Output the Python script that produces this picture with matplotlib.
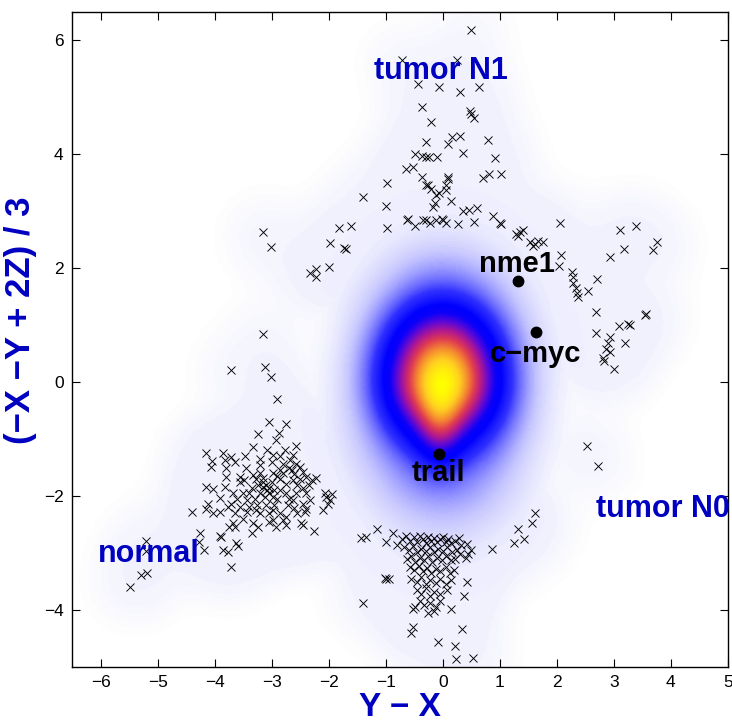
#!/usr/bin/env python3
import numpy as np
import matplotlib.pyplot as plt
from matplotlib.colors import LinearSegmentedColormap

# === config ===
XLIM = (-6.5, 5)
YLIM = (-5, 6.5)
LABEL_BLUE = "#0000c0"

# --- gene points (Y - X, (-X - Y + 2Z)/3) ---
TOP_PTS = [
    (0.49, 6.19), (-0.72, 5.66), (0.25, 5.65), (-0.43, 5.24), (-0.06, 5.19), (0.31, 5.09),
    (0.64, 5.18), (-0.36, 4.83), (-0.20, 4.57), (0.47, 4.77), (0.54, 4.63), (0.50, 4.71),
    (-0.29, 4.22), (0.09, 4.19), (0.17, 4.30), (0.31, 4.33), (0.80, 4.25), (-0.49, 4.01),
    (-0.36, 3.98), (-0.24, 3.96), (-0.10, 3.96), (-0.30, 3.95), (0.36, 4.02), (0.91, 3.94),
    (-0.65, 3.75), (-0.52, 3.78), (-0.37, 3.61), (-0.98, 3.50), (-0.26, 3.46), (-0.20, 3.40),
    (-0.29, 3.46), (0.09, 3.57), (0.05, 3.46), (0.06, 3.37), (0.09, 3.60), (-0.06, 3.32),
    (-0.11, 3.28), (0.70, 3.59), (0.81, 3.65), (1.03, 3.66), (0.15, 3.19), (-0.14, 3.15),
    (-0.17, 3.08), (-1.00, 3.09), (0.36, 3.01), (0.46, 3.03), (0.60, 3.06), (-0.61, 2.87),
    (-0.49, 2.75), (-0.35, 2.84), (-0.23, 2.80), (-0.11, 2.84), (-0.02, 2.87), (0.05, 2.80),
    (-0.29, 2.84), (0.01, 2.84), (0.27, 2.77), (0.54, 2.81), (-0.98, 2.71), (0.88, 2.91),
    (1.00, 2.80), (-0.63, 2.85), (-1.39, 3.26), (-1.60, 2.74), (-1.82, 2.71), (-1.97, 2.44),
    (-1.74, 2.35), (-1.69, 2.33), (-1.99, 2.02), (-2.32, 1.91), (-2.23, 1.98), (-2.22, 1.85),
    (-3.15, 2.64), (-3.02, 2.37), (-3.15, 0.85),
]

RIGHT_PTS = [
    (1.03, 2.78), (1.29, 2.61), (1.35, 2.64), (1.41, 2.68), (1.32, 2.56), (2.05, 2.80),
    (1.53, 2.46), (1.61, 2.43), (1.67, 2.48), (1.75, 2.46), (1.58, 2.39), (2.08, 2.23),
    (2.04, 2.04), (2.93, 2.20), (3.11, 2.67), (3.39, 2.75), (3.18, 2.33), (3.68, 2.32),
    (3.75, 2.46), (2.26, 1.94), (2.28, 1.85), (2.29, 1.74), (2.33, 1.66), (2.37, 1.50),
    (2.36, 1.56), (2.55, 1.61), (2.70, 1.82), (2.68, 1.23), (3.57, 1.20), (3.55, 1.18),
    (2.68, 0.87), (2.93, 0.79), (3.09, 0.98), (3.25, 1.03), (3.28, 1.00), (3.19, 0.69),
    (2.90, 0.68), (2.87, 0.59), (2.93, 0.53), (2.81, 0.42), (2.82, 0.37), (3.00, 0.24),
    (2.53, -1.12), (2.72, -1.47), (1.61, -2.29), (1.57, -2.48), (1.32, -2.57), (1.42, -2.76),
    (1.25, -2.82), (0.87, -2.92),
]

NORMAL_PTS = [
    (-3.71, 0.22), (-3.11, 0.27), (-3.02, 0.09), (-2.91, -0.30), (-3.04, -0.70), (-2.74, -0.74),
    (-3.24, -0.91), (-2.87, -0.89), (-2.93, -1.01), (-4.15, -1.25), (-3.86, -1.24), (-3.71, -1.32),
    (-4.04, -1.38), (-4.06, -1.49), (-3.82, -1.37), (-3.46, -1.30), (-3.33, -1.13), (-2.57, -1.12),
    (-2.77, -1.19), (-2.63, -1.28), (-3.09, -1.19), (-2.98, -1.28), (-3.21, -1.34), (-3.80, -1.51),
    (-3.80, -1.66), (-3.56, -1.67), (-3.49, -1.71), (-3.33, -1.63), (-3.21, -1.60), (-3.15, -1.69),
    (-3.24, -1.81), (-3.16, -1.84), (-3.09, -1.89), (-3.04, -1.95), (-2.98, -2.01), (-2.86, -1.89),
    (-2.74, -1.78), (-2.63, -1.72), (-2.51, -1.49), (-2.45, -1.57), (-2.39, -1.66), (-2.30, -1.72),
    (-2.22, -1.69), (-2.57, -1.43), (-2.68, -1.37), (-2.80, -1.43), (-2.86, -1.54), (-2.98, -1.60),
    (-4.15, -1.84), (-4.03, -1.87), (-3.82, -1.84), (-3.91, -2.04), (-3.68, -1.95), (-3.50, -1.95),
    (-3.44, -2.07), (-3.39, -2.19), (-3.27, -2.25), (-3.71, -2.13), (-3.77, -2.19), (-3.56, -2.19),
    (-4.12, -2.13), (-4.15, -2.22), (-4.03, -2.30), (-3.91, -2.28), (-4.39, -2.28), (-3.65, -2.30),
    (-3.44, -2.28), (-3.21, -2.30), (-2.98, -2.25), (-2.86, -2.30), (-2.71, -2.16), (-2.74, -2.36),
    (-3.04, -2.45), (-2.92, -2.54), (-2.98, -2.42), (-2.80, -2.42), (-3.33, -2.48), (-3.24, -2.54),
    (-3.34, -2.64), (-3.68, -2.48), (-3.65, -2.54), (-3.74, -2.54), (-2.48, -2.48), (-2.45, -2.51),
    (-2.25, -2.61), (-2.45, -2.13), (-2.39, -2.22), (-2.42, -2.28), (-2.33, -2.07), (-2.57, -1.95),
    (-2.63, -2.07), (-2.10, -2.25), (-2.07, -1.95), (-2.04, -2.01), (-1.98, -2.07), (-1.95, -1.96),
    (-2.01, -2.13), (-3.91, -2.70), (-3.88, -2.71), (-4.25, -2.64), (-4.28, -2.80), (-4.18, -2.95),
    (-3.86, -2.95), (-3.77, -2.98), (-3.62, -2.83), (-3.59, -2.88), (-3.72, -3.25), (-5.20, -2.78),
    (-5.21, -2.96), (-5.29, -3.39), (-5.19, -3.35), (-5.49, -3.59),
    (-3.15, -1.75), (-3.10, -1.80), (-3.05, -1.85), (-3.20, -1.95), (-3.12, -2.02), (-3.00, -1.75),
    (-2.95, -1.90), (-2.90, -2.05), (-2.85, -1.70), (-2.80, -1.60), (-2.75, -1.95), (-2.70, -2.05),
    (-2.65, -1.55), (-2.60, -1.62), (-2.55, -1.80), (-2.50, -1.70), (-2.45, -1.85), (-2.40, -1.95),
    (-2.35, -1.80), (-3.28, -1.70), (-3.35, -1.85), (-3.40, -1.95), (-3.30, -2.05), (-3.25, -2.15),
    (-3.10, -2.15), (-3.05, -2.30), (-2.95, -2.15), (-2.90, -1.65), (-2.70, -1.50), (-3.55, -1.75),
    (-3.60, -2.05), (-3.20, -1.45), (-3.00, -1.40), (-2.85, -1.30), (-2.55, -2.30), (-2.60, -2.20),
    (-3.50, -2.40), (-3.45, -1.50), (-3.65, -1.40), (-2.75, -2.50),
]

BOTTOM_PTS = [
    (-0.72, -2.75), (-0.65, -2.70), (-0.58, -2.78), (-0.50, -2.72), (-0.45, -2.80), (-0.40, -2.70),
    (-0.35, -2.76), (-0.30, -2.82), (-0.25, -2.72), (-0.20, -2.78), (-0.15, -2.74), (-0.10, -2.80),
    (-0.05, -2.76), (0.00, -2.72), (0.05, -2.80), (0.10, -2.75), (0.15, -2.82), (0.22, -2.78),
    (0.28, -2.74), (0.32, -2.86), (-0.68, -2.90), (-0.60, -2.95), (-0.52, -2.88), (-0.45, -2.98),
    (-0.38, -2.92), (-0.30, -2.96), (-0.22, -2.90), (-0.15, -2.98), (-0.08, -2.92), (0.00, -2.96),
    (0.08, -2.90), (0.16, -2.98), (0.25, -2.94), (0.30, -3.02), (-0.62, -3.10), (-0.55, -3.05),
    (-0.48, -3.15), (-0.40, -3.08), (-0.32, -3.12), (-0.25, -3.05), (-0.18, -3.15), (-0.10, -3.08),
    (-0.02, -3.12), (0.06, -3.05), (0.14, -3.12), (0.22, -3.10), (-0.58, -3.25), (-0.50, -3.30),
    (-0.42, -3.22), (-0.35, -3.32), (-0.28, -3.26), (-0.20, -3.35), (-0.12, -3.28), (-0.05, -3.32),
    (0.05, -3.25), (0.12, -3.35), (0.20, -3.30), (-0.55, -3.45), (-0.46, -3.50), (-0.38, -3.42),
    (-0.30, -3.55), (-0.22, -3.48), (-0.12, -3.52), (-0.05, -3.45), (0.05, -3.55), (0.15, -3.48),
    (-0.45, -3.65), (-0.38, -3.72), (-0.30, -3.62), (-0.22, -3.75), (-0.15, -3.68), (-0.05, -3.72),
    (0.08, -3.65), (-0.40, -3.85), (-0.32, -3.92), (-0.22, -3.88), (-0.12, -3.95), (-0.05, -3.85),
    (-0.15, -4.02), (-0.25, -4.05), (-0.52, -3.98), (-0.48, -3.95),
    (0.43, -2.84), (0.49, -2.94), (0.40, -3.09), (0.45, -3.02), (0.43, -3.50), (0.37, -3.75),
    (0.15, -3.99), (0.33, -4.34), (-0.08, -4.57), (0.21, -4.63), (0.23, -4.86), (0.53, -4.85),
    (-0.52, -4.29), (-0.55, -4.41), (-0.99, -3.46), (-0.87, -2.65), (-0.80, -2.85), (-0.95, -3.45),
    (-1.43, -2.74), (-1.34, -2.71), (-1.15, -2.57), (-0.99, -2.80), (-1.02, -3.44), (-1.39, -3.88),
]

# highlighted genes
GENES = ["nme1", "c\u2212myc", "trail"]
GENE_X = [1.32, 1.63, -0.06]
GENE_Y = [1.78, 0.89, -1.26]
GENE_TX = [1.30, 1.63, -0.07]
GENE_TY = [2.07, 0.50, -1.60]

# group labels
GROUPS = ["tumor N1", "normal", "tumor N0"]
GROUP_X = [-0.03, -5.16, 3.86]
GROUP_Y = [5.47, -3.02, -2.23]

# central density blobs: (cx, cy, sx, sy_up, sy_down, weight)
BLOBS = [
    (0.00, 0.05, 0.60, 0.75, 0.62, 0.72),
    (-0.05, -0.78, 0.26, 0.50, 0.45, 0.20),
    (0.00, 0.00, 0.95, 1.30, 1.45, 0.29),
]

CMAP = LinearSegmentedColormap.from_list("dens", [
    (0.00, "#ffffff"),
    (0.02, "#f5f5fe"),
    (0.07, "#c8c8ff"),
    (0.13, "#8080ff"),
    (0.20, "#3030ff"),
    (0.30, "#0000ff"),
    (0.37, "#0a00fa"),
    (0.46, "#5a08d8"),
    (0.56, "#b01890"),
    (0.66, "#e03c50"),
    (0.77, "#f58a30"),
    (0.88, "#ffd020"),
    (1.00, "#ffff00"),
])


def density_grid():
    gx = np.linspace(*XLIM, 460)
    gy = np.linspace(*YLIM, 460)
    X, Y = np.meshgrid(gx, gy)
    D = np.zeros_like(X)
    for cx, cy, sx, sy_up, sy_dn, w in BLOBS:
        sy = np.where(Y >= cy, sy_up, sy_dn)
        D += w * np.exp(-0.5 * (((X - cx) / sx) ** 2 + ((Y - cy) / sy) ** 2))
    D = D / D.max()
    # faint halo around all plotted genes
    pts = np.array(TOP_PTS + RIGHT_PTS + NORMAL_PTS + BOTTOM_PTS)
    K = np.zeros_like(X)
    bw = 0.42
    for px, py in pts:
        K += np.exp(-0.5 * (((X - px) / bw) ** 2 + ((Y - py) / bw) ** 2))
    halo = 0.025 * (1 - np.exp(-K / 1.0))
    return np.clip(np.maximum(D, halo) + 0.3 * np.minimum(D, halo), 0, 1)


def plot():
    fig = plt.figure(figsize=(7.32, 7.22), dpi=100)
    ax = fig.add_axes([0.0984, 0.0762, 0.896, 0.9072])

    ax.imshow(density_grid(), extent=(*XLIM, *YLIM), origin="lower",
              cmap=CMAP, vmin=0, vmax=1, aspect="auto", interpolation="bilinear",
              zorder=0)

    for pts in (TOP_PTS, RIGHT_PTS, NORMAL_PTS, BOTTOM_PTS):
        xs = [p[0] for p in pts]
        ys = [p[1] for p in pts]
        ax.plot(xs, ys, "x", color="black", markersize=5.5, markeredgewidth=0.65,
                zorder=2)

    ax.plot(GENE_X, GENE_Y, "o", color="black", markersize=7.5, zorder=3)
    for name, tx, ty in zip(GENES, GENE_TX, GENE_TY):
        ax.text(tx, ty, name, fontsize=21, fontweight="bold", color="black",
                ha="center", va="center", family="Liberation Sans", zorder=4)

    for name, gx, gy in zip(GROUPS, GROUP_X, GROUP_Y):
        ax.text(gx, gy, name, fontsize=22, fontweight="bold", color=LABEL_BLUE,
                ha="center", va="center", family="Liberation Sans", zorder=4)

    ax.set_xlim(*XLIM)
    ax.set_ylim(*YLIM)
    ax.set_xticks(range(-6, 6))
    ax.set_yticks(range(-4, 7, 2))
    ax.set_xticklabels([f"{v}".replace("-", "\u2212") for v in range(-6, 6)])
    ax.set_yticklabels([f"{v}".replace("-", "\u2212") for v in range(-4, 7, 2)])
    ax.tick_params(direction="in", length=6, width=0.8, top=True, right=True,
                   labelsize=12.5, pad=6)
    for lbl in ax.get_xticklabels() + ax.get_yticklabels():
        lbl.set_family("Liberation Sans")
    for s in ax.spines.values():
        s.set_linewidth(1.0)

    ax.set_xlabel("Y \u2212 X", fontsize=24, fontweight="bold", color=LABEL_BLUE,
                  family="Liberation Sans")
    ax.set_ylabel("(\u2212X \u2212Y + 2Z) / 3", fontsize=25, fontweight="bold",
                  color=LABEL_BLUE, family="Liberation Sans")
    ax.xaxis.set_label_coords(0.5, -0.038)
    ax.yaxis.set_label_coords(-0.053, 0.53)

    fig.savefig("out.png", dpi=100)


def main():
    plot()


if __name__ == "__main__":
    main()
